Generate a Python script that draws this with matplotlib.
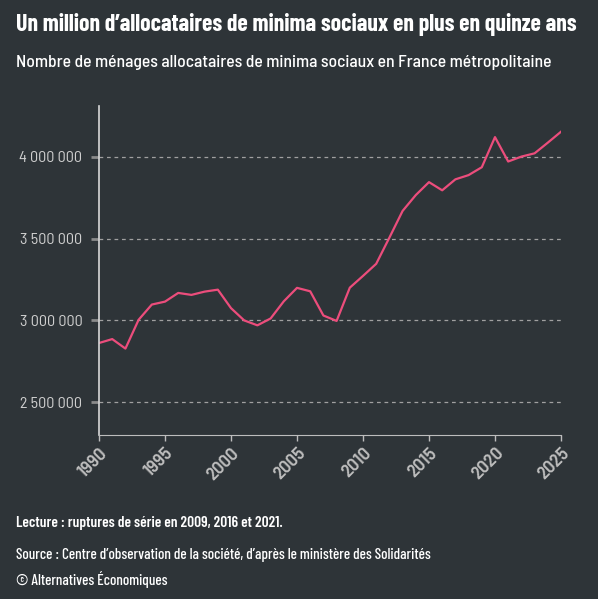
import matplotlib.pyplot as plt
from matplotlib.ticker import FuncFormatter

# --- données ---
annees = list(range(1990, 2026))
menages = [2862000, 2886000, 2828000, 3004000, 3097000, 3115000, 3168000,
           3156000, 3176000, 3188000, 3075000, 3000000, 2970000, 3012000,
           3117000, 3199000, 3178000, 3030000, 2997000, 3200000, 3272000,
           3346000, 3506000, 3669000, 3766000, 3845000, 3795000, 3862000,
           3888000, 3936000, 4120000, 3971000, 4001000, 4021000, 4086000,
           4153000]
yticks = [2500000, 3000000, 3500000, 4000000]
xticks = [1990, 1995, 2000, 2005, 2010, 2015, 2020, 2025]

titre = "Un million d\u2019allocataires de minima sociaux en plus en quinze ans"
sous_titre = "Nombre de ménages allocataires de minima sociaux en France métropolitaine"
lecture = "Lecture : ruptures de série en 2009, 2016 et 2021."
source = "Source : Centre d\u2019observation de la société, d\u2019après le ministère des Solidarités"
copyright_txt = "© Alternatives Économiques"

fond = '#2e3438'
rose = '#ec4d7c'
cond = ['Barlow Condensed', 'DejaVu Sans']
semi = ['Barlow Semi Condensed', 'DejaVu Sans']

fig = plt.figure(figsize=(5.98, 5.99), dpi=100, facecolor=fond)
ax = fig.add_axes([0.1656, 0.2738, 0.7725, 0.5492], facecolor=fond)

ax.plot(annees, menages, color=rose, linewidth=1.6)

ax.set_xlim(1990, 2025)
ax.set_ylim(2300000, 4310000)
ax.set_xticks(xticks)
ax.set_yticks(yticks)
ax.yaxis.set_major_formatter(FuncFormatter(lambda v, p: f"{int(v):,}".replace(",", " ")))

ax.grid(axis='y', color='#a0a0a0', linestyle=(0, (3, 3)), linewidth=0.9)
ax.set_axisbelow(True)

for s in ['top', 'right']:
    ax.spines[s].set_visible(False)
ax.spines['left'].set_color('#d8d8d8')
ax.spines['bottom'].set_color('#bdbdbd')
ax.spines['left'].set_linewidth(1.2)

ax.tick_params(axis='y', colors='#8a8a8a', labelcolor='#cfcfcf', length=6,
               width=2, labelsize=11.5, pad=6)
ax.tick_params(axis='x', colors='#bdbdbd', labelcolor='#bdbdbd', length=4,
               width=1, labelsize=13.5, pad=3)
for lab in ax.get_yticklabels():
    lab.set_family(semi)
for lab in ax.get_xticklabels():
    lab.set_family(semi)
    lab.set_fontweight(600)
    lab.set_rotation(45)
    lab.set_ha('right')
    lab.set_va('top')
    lab.set_rotation_mode('anchor')

fig.text(16 / 598, 1 - 25 / 599, titre, color='white', fontsize=17.1,
         fontweight=700, family=cond, va='center', ha='left')
fig.text(16 / 598, 1 - 62 / 599, sous_titre, color='white', fontsize=12.7,
         fontweight=500, family=semi, va='center', ha='left')
fig.text(16 / 598, 1 - 523 / 599, lecture, color='white', fontsize=11,
         fontweight=600, family=cond, va='center', ha='left')
fig.text(16 / 598, 1 - 555 / 599, source, color='white', fontsize=10.95,
         fontweight=500, family=cond, va='center', ha='left')
fig.text(16 / 598, 1 - 580 / 599, copyright_txt, color='white', fontsize=10.9,
         fontweight=500, family=cond, va='center', ha='left')

fig.savefig('out.png', dpi=100, facecolor=fond)
